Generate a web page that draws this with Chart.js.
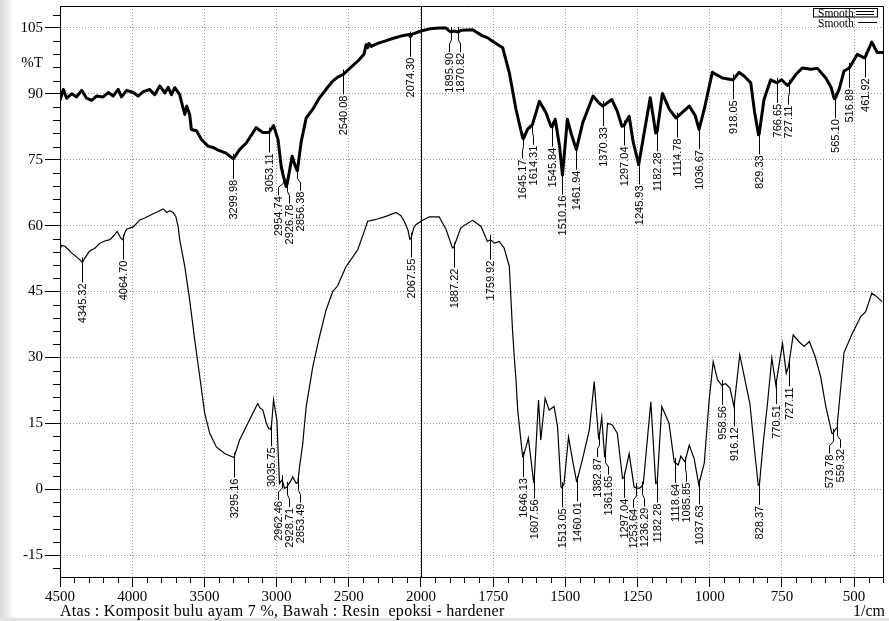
<!DOCTYPE html>
<html>
<head>
<meta charset="utf-8">
<script src="https://cdn.jsdelivr.net/npm/chart.js@4"></script>
<style>
html,body{margin:0;padding:0;background:#fff;}
canvas{display:block;}
</style>
</head>
<body>
<canvas id="ftir" width="889" height="621"></canvas>
<script>
// upper spectrum: Komposit bulu ayam 7 %
var topWave = [4500,4477,4454,4419,4385,4350,4316,4281,4247,4201,4166,4132,4097,4074,4039,3993,3959,3924,3878,3844,3809,3774,3751,3728,3705,3671,
  3659,3636,3622,3602,3590,3555,3520,3475,3440,3405,3350,3300,3256,3210,3141,3095,3053,3021,2990,2968,2955,2933,2927,2892,2875,2860,2856,2830,2795,2749,2703,
  2646,2611,2577,2540,2500,2427,2395,2380,2370,2360,2345,2300,2250,2197,2120,2081,2074,2060,2000,1970,1937,1913,1902,1896,1885,1871,1860,1821,1787,1770,1752,1717,
  1694,1671,1648,1645,1631,1614,1590,1567,1550,1546,1535,1520,1510,1493,1480,1462,1440,1404,1385,1370,1339,1320,1304,1297,1279,1265,1246,1230,1206,1187,1182,
  1164,1140,1117,1115,1071,1050,1037,1019,991,956,921,918,898,880,858,845,831,829,812,789,767,751,731,727,702,679,650,627,598,580,569,565,552,535,517,489,465,462,439,420,400];
var topT = [88.5,91,89,90,89.3,90.8,89,88.5,89.5,89.3,90.3,89.5,91,89.3,90.8,90.3,89.5,90.5,91,89.8,91.8,90.2,91.5,89.8,91.4,89.8,
  88.2,85.3,87.2,85.3,81.9,81.6,79.6,78.1,77.8,77.2,76.5,75.2,77.3,78.8,82.3,81.2,81.2,82.8,79.6,73.5,71.5,68.9,69.5,75.8,74,72.7,72.5,79,84.5,86.5,89.1,
  91.5,92.9,93.8,94.4,95.6,97.8,99,101.2,100.5,101.5,100.8,101.5,102,102.6,103.3,103.5,103,103.6,104.3,104.8,105,105,104.3,104.1,104.3,104.1,104.5,104.6,103.2,102.8,102,100.5,
  94.8,86.5,80,79.8,81.9,83,88.3,85.7,82.6,82.5,84.2,78,71.5,84.2,81,77.3,83.4,89.5,88,87.2,88.7,86,82.6,82.8,84.9,79,73.9,80,89.1,81.1,81.5,
  90.1,86.5,84.5,84.6,87.2,85,81.9,86.5,94.9,93.6,93.2,93.3,94.9,94,92.5,86,80.7,80.8,88.7,93.2,92.5,93.2,91.9,92.1,94.4,95.9,95.6,95.8,93.6,91.5,88.9,89,91,95.2,95.9,99,98.2,98.3,101.8,99.4,99.4];

// lower spectrum: Resin epoksi - hardener
var bottomWave = [4500,4490,4465,4450,4420,4390,4362,4345,4330,4300,4281,4260,4224,4190,4154,4125,4104,4080,4065,4050,4039,3993,3947,3910,3855,3820,3786,3760,3740,3717,3698,3682,3671,
  3636,3602,3567,3532,3498,3463,3417,3360,3295,3256,3199,3141,3130,3115,3095,3071,3054,3042,3036,3021,2998,2980,2962,2945,2929,2900,2888,2864,2853,2841,2820,2795,2749,2703,2657,2611,2577,
  2519,2480,2438,2400,2369,2340,2300,2243,2173,2140,2116,2090,2077,2068,2050,2035,2000,1971,1937,1913,1891,1887,1862,1840,1821,1792,1770,1760,1745,1729,1712,1694,1683,1677,1671,1665,
  1648,1646,1628,1610,1608,1593,1585,1570,1556,1539,1527,1515,1513,1505,1489,1475,1461,1460,1440,1417,1400,1385,1383,1374,1364,1362,1354,1337,1320,1302,1297,1279,1262,1254,1244,1236,1230,
  1204,1187,1182,1166,1141,1123,1119,1109,1100,1086,1071,1054,1038,1019,1002,988,973,959,945,930,916,896,878,861,846,832,828,815,800,785,771,748,735,727,711,690,673,655,635,616,598,
  577,574,566,559,558,535,506,477,460,439,425,403];
var bottomT = [54.5,55.5,55.3,54.8,53.8,53,52.2,51.6,52.5,54,54.5,54.8,56,56.5,56.8,57.8,58.7,57.2,56.8,58.5,59.2,59.7,61.3,61.8,62.7,63.2,63.8,63,63.4,63,62.1,59.8,56.8,
  50.7,43.1,34,25.6,17.3,12.7,9.6,8.1,7.2,11.2,15,18.8,19.5,18.5,18,15,13.8,13.6,14.2,20.3,15.7,1.3,2.1,0.2,0.5,2,2.8,1.3,1.5,5.1,10,18.8,27.9,34.7,40.8,45,46.3,
  50.7,52.5,54.5,58,61,61.2,61.5,62.1,63,62.3,61,59,56.9,57.2,59.5,60.2,61,62,62,59.1,54.9,55,59.5,60.5,61.2,59.8,56.4,56.8,56,56.4,54.9,50.7,36.3,30.2,24.9,18,
  7.4,7.3,11.6,1.7,1.9,20.3,11.2,20.7,18,18.8,14.2,0.5,0.4,1,11.9,6.6,1.7,1.8,7,13.5,24.5,11.6,11.8,16.4,7.4,7.5,15,14.6,12.7,2.4,2.6,8.1,0.5,0.3,0.2,0.6,1.3,
  19.9,1.3,1.5,18.8,15,6.2,6,5.5,7.5,6.2,10,7,1,5.9,20.3,29,24.9,23.7,24,23,18.8,30.6,24.9,19.5,9.6,0.9,1,10.4,19.5,29.8,23.7,33.2,26.4,28,35.1,33.5,32.5,33.6,30.2,25.6,18.8,
  12.7,12.6,13.5,14,15,31.1,35.5,39.3,40.4,44.6,44,42.7];

var topPeaks = ["3299.98","3053.11","2954.74","2926.78","2856.38","2540.08","2074.30","1895.90","1870.82","1645.17","1614.31","1545.84","1510.16","1461.94",
  "1370.33","1297.04","1245.93","1182.28","1114.78","1036.67","918.05","829.33","766.65","727.11","565.10","516.89","461.92"];
var bottomPeaks = ["4345.32","4064.70","3295.16","3035.75","2962.46","2928.71","2853.49","2067.55","1887.22","1759.92","1646.13","1607.56","1513.05","1460.01",
  "1382.87","1361.65","1297.04","1253.64","1236.29","1182.28","1118.64","1085.85","1037.63","958.56","916.12","828.37","770.51","727.11","573.78","559.32"];

var xMajor = [4500,4000,3500,3000,2500,2000,1750,1500,1250,1000,750,500];
var yMajor = [-15,0,15,30,45,60,75,90,105];

// below 2000 1/cm the axis is stretched twice, so map wavenumber onto a linear axis value
function toAxis(w){ return w >= 2000 ? w : 2000 - 2*(2000 - w); }
function fromAxis(v){ return v >= 2000 ? v : 2000 - (2000 - v)/2; }

function valueAt(waves, vals, w){
  for (var i = 0; i < waves.length - 1; i++) {
    if (waves[i] >= w && waves[i+1] <= w) {
      var t = (waves[i] - w)/(waves[i] - waves[i+1]);
      return vals[i] + t*(vals[i+1] - vals[i]);
    }
  }
  return vals[vals.length-1];
}

var serif = "'Liberation Serif', 'Times New Roman', serif";

function drawPeaks(ctx, xs, ys, waves, vals, peaks){
  var items = peaks.map(function(p){
    var w = parseFloat(p);
    var px = xs.getPixelForValue(toAxis(w));
    var py = ys.getPixelForValue(valueAt(waves, vals, w));
    return {text: p, px: px, py: py, lx: px};
  });
  items.sort(function(a,b){ return a.px - b.px; });
  var i = 0;
  while (i < items.length) {
    var j = i;
    while (j+1 < items.length && items[j+1].px - items[j].px < 12 && Math.abs(items[j+1].py - items[j].py) < 40) j++;
    if (j > i) {
      var c = 0;
      for (var k = i; k <= j; k++) c += items[k].px;
      c /= (j - i + 1);
      var start = c - 11*(j - i)/2;
      for (k = i; k <= j; k++) items[k].lx = start + 11*(k - i);
    }
    i = j + 1;
  }
  ctx.strokeStyle = '#000';
  ctx.lineWidth = 1;
  ctx.fillStyle = '#000';
  ctx.font = "11px 'Liberation Sans', Arial, sans-serif";
  items.forEach(function(it){
    var x = Math.round(it.px) + 0.5, lx = Math.round(it.lx) + 0.5;
    ctx.beginPath();
    ctx.moveTo(x, it.py - 5);
    if (Math.abs(lx - x) < 1) {
      ctx.lineTo(x, it.py + 20);
    } else {
      ctx.lineTo(x, it.py + 8);
      ctx.lineTo(lx, it.py + 12);
      ctx.lineTo(lx, it.py + 20);
    }
    ctx.stroke();
    ctx.save();
    ctx.translate(lx, it.py + 21);
    ctx.rotate(-Math.PI/2);
    ctx.textAlign = 'right';
    ctx.textBaseline = 'middle';
    ctx.fillText(it.text, 0, 0);
    ctx.restore();
  });
}

var decor = {
  id: 'decor',
  beforeDraw: function(chart){
    var ctx = chart.ctx;
    ctx.save();
    var g = ctx.createLinearGradient(0, 0, 14, 0);
    g.addColorStop(0, '#d6d6d6');
    g.addColorStop(1, '#ffffff');
    ctx.fillStyle = g;
    ctx.fillRect(0, 0, 14, 621);
    ctx.fillStyle = '#e4e4e4';
    ctx.fillRect(0, 618, 889, 3);
    ctx.restore();
  },
  afterDraw: function(chart){
    var ctx = chart.ctx, a = chart.chartArea, xs = chart.scales.x, ys = chart.scales.y;
    ctx.save();
    ctx.strokeStyle = '#000';
    ctx.lineWidth = 1;
    // frame top and right
    ctx.beginPath();
    ctx.moveTo(a.left, a.top + 0.5);
    ctx.lineTo(a.right + 0.5, a.top + 0.5);
    ctx.lineTo(a.right + 0.5, a.bottom);
    ctx.stroke();
    // break line at 2000
    var x2 = Math.round(xs.getPixelForValue(2000)) + 0.5;
    ctx.beginPath();
    ctx.moveTo(x2, a.top);
    ctx.lineTo(x2, a.bottom);
    ctx.stroke();
    // minor ticks
    ctx.beginPath();
    for (var v = 4500; v >= -1200; v -= 100) {
      if (v % 500 === 0) continue;
      var px = Math.round(xs.getPixelForValue(v)) + 0.5;
      ctx.moveTo(px, a.bottom);
      ctx.lineTo(px, a.bottom + 6);
    }
    for (v = -18; v <= 108; v += 3) {
      if (v % 15 === 0) continue;
      var py = Math.round(ys.getPixelForValue(v)) + 0.5;
      ctx.moveTo(a.left - 7, py);
      ctx.lineTo(a.left, py);
    }
    ctx.stroke();

    drawPeaks(ctx, xs, ys, topWave, topT, topPeaks);
    drawPeaks(ctx, xs, ys, bottomWave, bottomT, bottomPeaks);

    // texts
    ctx.fillStyle = '#000';
    ctx.font = '15px ' + serif;
    ctx.textBaseline = 'alphabetic';
    ctx.textAlign = 'right';
    ctx.fillText('%T', 43, 67);
    ctx.font = '16px ' + serif;
    ctx.fillText('1/cm', 885, 616);
    ctx.textAlign = 'left';
    ctx.letterSpacing = '0.3px';
    ctx.fillText('Atas : Komposit bulu ayam 7 %, Bawah : Resin  epoksi - hardener', 60, 616);
    ctx.letterSpacing = '0px';

    // legend
    ctx.font = '11.5px ' + serif;
    ctx.textAlign = 'left';
    ctx.strokeRect(813.5, 8.5, 64, 8.5);
    ctx.fillText('Smooth', 818, 16.5);
    ctx.fillText('Smooth', 818, 27);
    ctx.beginPath();
    ctx.moveTo(856, 11.5); ctx.lineTo(874, 11.5);
    ctx.moveTo(856, 14.5); ctx.lineTo(874, 14.5);
    ctx.moveTo(858, 22.5); ctx.lineTo(877, 22.5);
    ctx.stroke();
    ctx.restore();
  }
};

var ctx = document.getElementById('ftir').getContext('2d');
var chart = new Chart(ctx, {
  type: 'line',
  data: {
    datasets: [{
      label: 'Smooth',
      data: topWave.map(function(w, i){ return {x: toAxis(w), y: topT[i]}; }),
      borderColor: '#000',
      borderWidth: 3,
      borderJoinStyle: 'round',
      pointRadius: 0,
      tension: 0
    }, {
      label: 'Smooth',
      data: bottomWave.map(function(w, i){ return {x: toAxis(w), y: bottomT[i]}; }),
      borderColor: '#000',
      borderWidth: 1.2,
      pointRadius: 0,
      tension: 0
    }]
  },
  options: {
    responsive: false,
    animation: false,
    layout: { padding: { top: 6, right: 6, left: 0, bottom: 0 } },
    plugins: { legend: { display: false }, tooltip: { enabled: false } },
    scales: {
      x: {
        type: 'linear',
        reverse: true,
        min: -1200,
        max: 4500,
        afterBuildTicks: function(scale){ scale.ticks = xMajor.map(function(w){ return {value: toAxis(w)}; }); },
        afterFit: function(scale){ scale.height = 44; scale.paddingLeft = 0; scale.paddingRight = 0; },
        ticks: {
          autoSkip: false,
          maxRotation: 0,
          padding: 1,
          color: '#000',
          font: { family: serif, size: 15 },
          callback: function(v){ return String(fromAxis(v)); }
        },
        grid: { color: '#9a9a9a', lineWidth: 1, tickColor: '#000', tickLength: 10 },
        border: { color: '#000', width: 1, dash: [1, 2] }
      },
      y: {
        min: -20,
        max: 110,
        afterBuildTicks: function(scale){ scale.ticks = yMajor.map(function(v){ return {value: v}; }); },
        afterFit: function(scale){ scale.width = 60; scale.paddingTop = 0; scale.paddingBottom = 0; },
        ticks: {
          padding: 2,
          color: '#000',
          font: { family: serif, size: 15 }
        },
        grid: { color: '#9a9a9a', lineWidth: 1, tickColor: '#000', tickLength: 15 },
        border: { color: '#000', width: 1, dash: [1, 2] }
      }
    }
  },
  plugins: [decor]
});
</script>
</body>
</html>
